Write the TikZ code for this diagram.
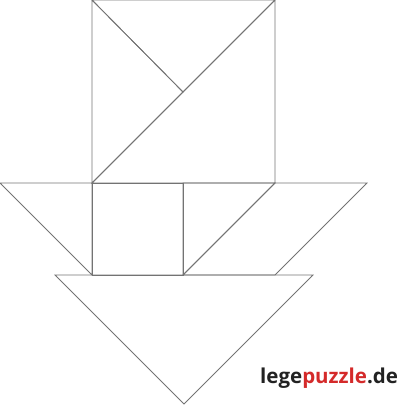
\documentclass[tikz,border=0pt]{standalone}
\usepackage{fontspec}
\setmainfont{Open Sans}
\definecolor{logored}{HTML}{D42A2A}
\definecolor{logodark}{HTML}{222222}

\begin{document}
\begin{tikzpicture}[
            x=1pt, y=-1pt,
            piece/.style={draw=black!55, line width=0.8pt, line join=miter},
            logo/.style={anchor=base west, inner sep=0pt, font=\fontsize{20.5}{21}\selectfont\bfseries, text=logodark}
            ]
            \useasboundingbox (0,0) rectangle (400,405);

            % Top square
            \coordinate (tl) at (92,0);
            \coordinate (tr) at (275,0);
            \coordinate (br) at (275,183);
            \coordinate (bl) at (92,183);
            \coordinate (mid) at (183,92);

            % Middle row
            \coordinate (wl) at (0,183);
            \coordinate (wr) at (367,183);
            \coordinate (sq) at (183,183);
            \coordinate (fl) at (92,275);
            \coordinate (fm) at (183,275);
            \coordinate (fr) at (275,275);

            % Bottom triangle
            \coordinate (hl) at (55,275);
            \coordinate (hr) at (313,275);
            \coordinate (tip) at (184,404);

            % Pieces
            \draw[piece] (bl) -- (br) -- (tr) -- cycle;
            \draw[piece] (tl) -- (tr) -- (mid) -- cycle;
            \draw[piece] (tl) -- (mid) -- (bl) -- cycle;
            \draw[piece] (wl) -- (bl) -- (fl) -- cycle;
            \draw[piece] (bl) -- (sq) -- (fm) -- (fl) -- cycle;
            \draw[piece] (sq) -- (br) -- (fm) -- cycle;
            \draw[piece] (br) -- (wr) -- (fr) -- (fm) -- cycle;
            \draw[piece] (hl) -- (hr) -- (tip) -- cycle;

            % Logo
            \node[logo] (brand) at (260,383) {lege\textcolor{logored}{puzzle}.de};

\end{tikzpicture}
\end{document}
